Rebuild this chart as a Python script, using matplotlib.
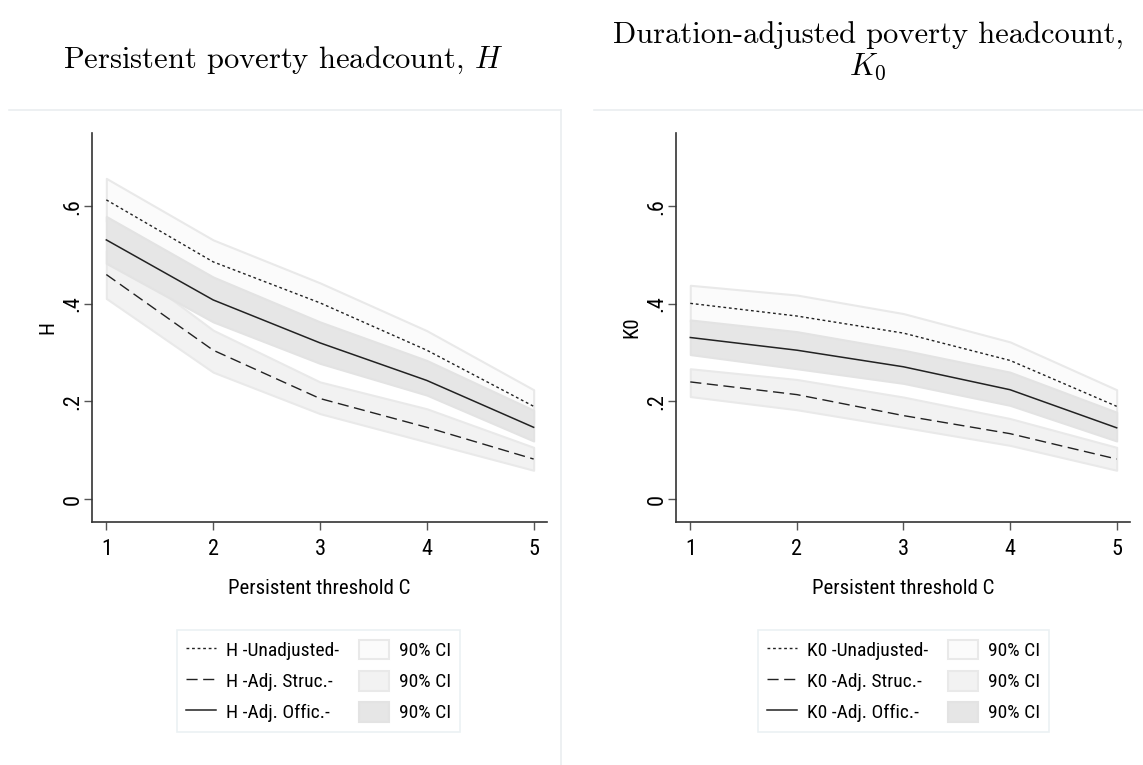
import numpy as np
import matplotlib
matplotlib.use("Agg")
import matplotlib.pyplot as plt
from matplotlib.lines import Line2D
from matplotlib.patches import Patch

plt.rcParams['font.family'] = ['Roboto Condensed', 'DejaVu Sans']
plt.rcParams['mathtext.fontset'] = 'cm'

thresholds = [1, 2, 3, 4, 5]

# Persistent poverty headcount H
h_unadj = [0.613, 0.486, 0.402, 0.305, 0.190]
h_unadj_hi = [0.657, 0.531, 0.443, 0.345, 0.224]
h_unadj_lo = [0.569, 0.441, 0.361, 0.265, 0.156]
h_struc = [0.460, 0.305, 0.206, 0.147, 0.082]
h_struc_hi = [0.509, 0.346, 0.240, 0.185, 0.106]
h_struc_lo = [0.411, 0.260, 0.175, 0.117, 0.059]
h_offic = [0.531, 0.408, 0.320, 0.243, 0.147]
h_offic_hi = [0.579, 0.455, 0.363, 0.284, 0.182]
h_offic_lo = [0.483, 0.363, 0.278, 0.213, 0.119]

# Duration-adjusted headcount K0
k_unadj = [0.401, 0.375, 0.340, 0.284, 0.190]
k_unadj_hi = [0.438, 0.418, 0.380, 0.322, 0.224]
k_unadj_lo = [0.364, 0.332, 0.300, 0.246, 0.156]
k_struc = [0.240, 0.214, 0.171, 0.134, 0.082]
k_struc_hi = [0.267, 0.245, 0.209, 0.165, 0.106]
k_struc_lo = [0.210, 0.183, 0.147, 0.110, 0.059]
k_offic = [0.331, 0.305, 0.271, 0.224, 0.146]
k_offic_hi = [0.367, 0.343, 0.305, 0.260, 0.178]
k_offic_lo = [0.296, 0.267, 0.237, 0.192, 0.119]

yticks = [0, 0.2, 0.4, 0.6]
ytick_labels = ['0', '.2', '.4', '.6']

band_colors = ['#fbfbfb', '#f2f2f2', '#e6e6e6']
band_edges = ['#e9e9e9', '#e9e9e9', '#e3e3e3']
dot_style = (0, (2, 2))
dash_style = (0, (8, 4))

fig = plt.figure(figsize=(11.43, 7.65), dpi=100)

def panel(rect, name, unadj, uhi, ulo, struc, shi, slo, offic, ohi, olo):
    ax = fig.add_axes(rect)
    x = np.array(thresholds)
    for lo, hi, fc, ec in [(ulo, uhi, band_colors[0], band_edges[0]),
                           (slo, shi, band_colors[1], band_edges[1]),
                           (olo, ohi, band_colors[2], band_edges[2])]:
        ax.fill_between(x, lo, hi, facecolor=fc, edgecolor=ec, linewidth=1.5)
    ax.plot(x, unadj, color='#222222', lw=1.0, linestyle=dot_style)
    ax.plot(x, struc, color='#222222', lw=1.0, linestyle=dash_style)
    ax.plot(x, offic, color='#222222', lw=1.1, linestyle='-')
    ax.set_xlim(0.866, 5.125)
    ax.set_ylim(-0.047, 0.75)
    ax.set_xticks(thresholds)
    ax.set_yticks(yticks)
    ax.set_yticklabels(ytick_labels, rotation=90, va='center')
    for s in ['top', 'right']:
        ax.spines[s].set_visible(False)
    for s in ['left', 'bottom']:
        ax.spines[s].set_color('#333333')
        ax.spines[s].set_linewidth(1.2)
    ax.tick_params(axis='both', direction='out', length=6, width=1, color='#555555',
                   labelsize=16)
    ax.tick_params(axis='x', pad=6)
    ax.tick_params(axis='y', pad=0)
    ax.set_xlabel('Persistent threshold C', fontsize=15, labelpad=14)
    ax.set_ylabel(name, fontsize=15, labelpad=4)
    ax.patch.set_alpha(0)
    return ax

ax1 = panel([92/1143, 1-522/765, 455/1143, 389/765], 'H',
            h_unadj, h_unadj_hi, h_unadj_lo, h_struc, h_struc_hi, h_struc_lo,
            h_offic, h_offic_hi, h_offic_lo)
ax2 = panel([676/1143, 1-522/765, 454/1143, 389/765], 'K0',
            k_unadj, k_unadj_hi, k_unadj_lo, k_struc, k_struc_hi, k_struc_lo,
            k_offic, k_offic_hi, k_offic_lo)

def legend(name, cx, cy):
    handles = [
        Line2D([], [], color='#222222', lw=1.0, linestyle=dot_style),
        Line2D([], [], color='#222222', lw=1.0, linestyle=dash_style),
        Line2D([], [], color='#222222', lw=1.1, linestyle='-'),
        Patch(facecolor=band_colors[0], edgecolor=band_edges[0], lw=1.5),
        Patch(facecolor=band_colors[1], edgecolor=band_edges[1], lw=1.5),
        Patch(facecolor=band_colors[2], edgecolor=band_edges[2], lw=1.5),
    ]
    labels = [name + ' -Unadjusted-', name + ' -Adj. Struc.-', name + ' -Adj. Offic.-',
              '90% CI', '90% CI', '90% CI']
    leg = fig.legend(handles, labels, ncol=2, loc='center',
                     bbox_to_anchor=(cx / 1143, 1 - cy / 765),
                     fontsize=14, frameon=True, fancybox=False,
                     handlelength=1.55, handleheight=1.2, handletextpad=0.5,
                     labelspacing=0.55, columnspacing=1.0, borderpad=0.5)
    leg.get_frame().set_edgecolor('#e6eef0')
    leg.get_frame().set_linewidth(1.2)

legend('H', 318.5, 681)
legend('K0', 903.5, 681)

# titles
fig.text(283/1143, 1-60/765, 'Persistent poverty headcount, $H$',
         family='cmr10', fontsize=22, ha='center', va='center')
fig.text(868/1143, 1-52/765, 'Duration-adjusted poverty headcount,\n$K_0$',
         family='cmr10', fontsize=22, ha='center', va='center', linespacing=1.05)

# panel frames
fc = '#eaeef0'
fig.add_artist(Line2D([9/1143, 561/1143], [1-110/765, 1-110/765], color=fc, lw=1.2))
fig.add_artist(Line2D([561/1143, 561/1143], [1-110/765, 0], color=fc, lw=1.2))
fig.add_artist(Line2D([594/1143, 1.0], [1-110/765, 1-110/765], color=fc, lw=1.2))

fig.savefig('out.png', dpi=100)
